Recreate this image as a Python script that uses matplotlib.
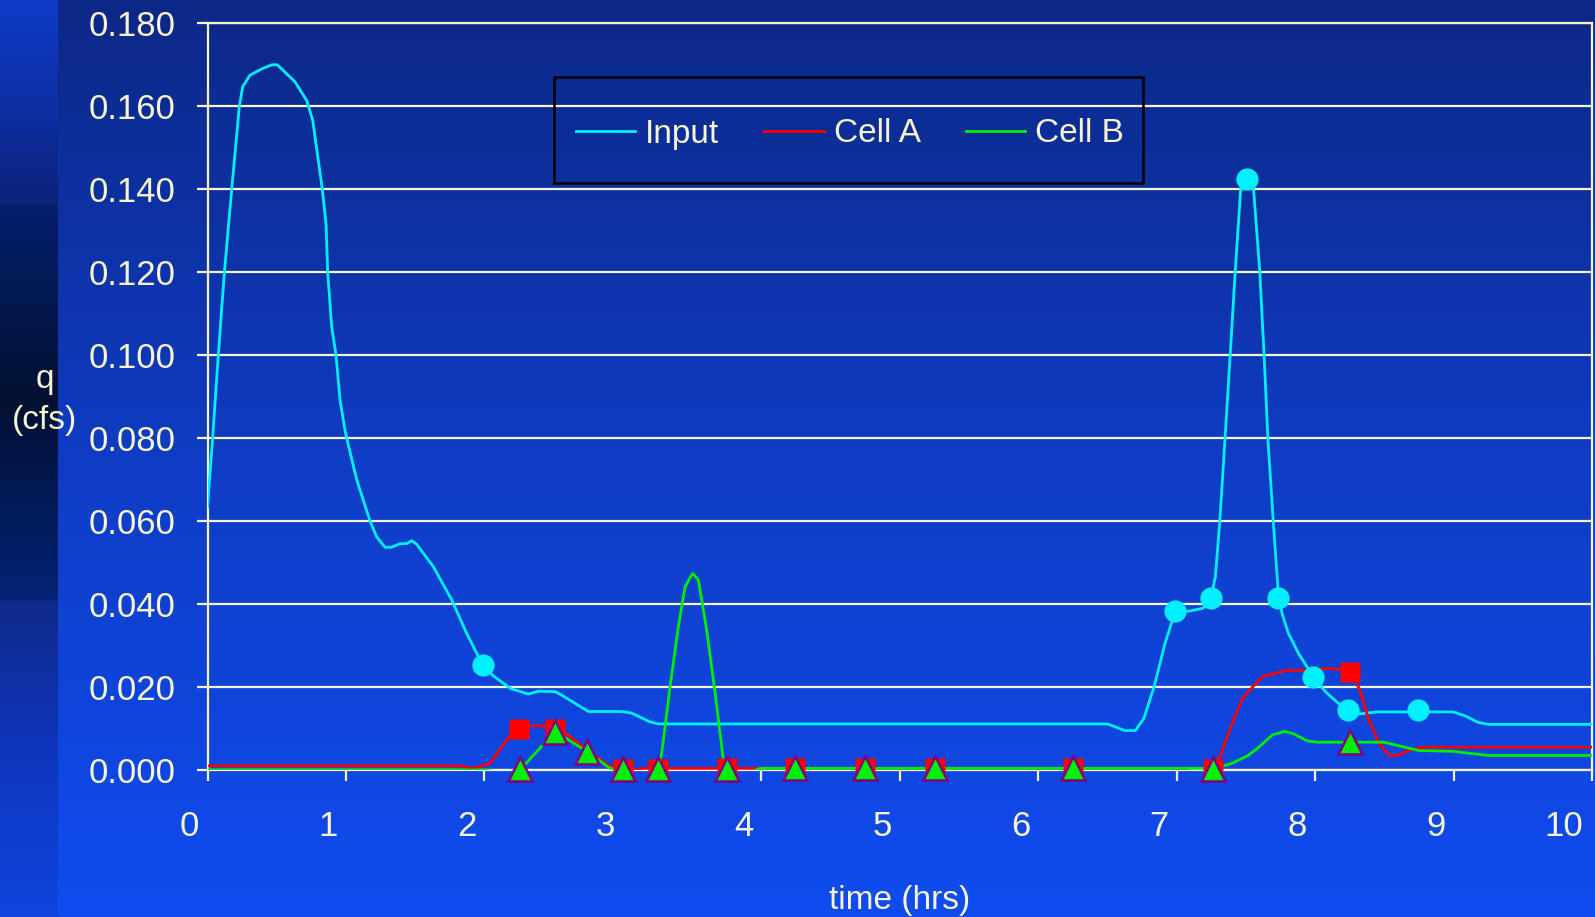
import numpy as np
import matplotlib
matplotlib.use("Agg")
import matplotlib.pyplot as plt
from matplotlib.lines import Line2D
from matplotlib.patches import Rectangle
from matplotlib.transforms import ScaledTranslation

plt.rcParams['font.family'] = ['Liberation Sans', 'DejaVu Sans']

# --- data (time in hrs, q in cfs) ---
input_t = [0.0, 0.037, 0.078, 0.122, 0.175, 0.23, 0.254, 0.307, 0.391, 0.464, 0.504,
           0.632, 0.716, 0.76, 0.80, 0.829, 0.856, 0.868, 0.897, 0.928, 0.957, 0.993,
           1.005, 1.078, 1.174, 1.222, 1.282, 1.33, 1.385, 1.439, 1.475, 1.511, 1.631,
           1.764, 1.872, 1.988, 2.064, 2.185, 2.317, 2.389, 2.51, 2.57, 2.75, 2.992,
           3.064, 3.196, 3.256, 6.5, 6.625, 6.70, 6.763, 6.839, 6.914, 6.989, 7.089,
           7.19, 7.245, 7.278, 7.31, 7.348, 7.385, 7.421, 7.461, 7.51, 7.554, 7.599,
           7.63, 7.657, 7.696, 7.735, 7.762, 7.805, 7.88, 7.986, 8.069, 8.169, 8.237,
           8.319, 8.445, 8.741, 8.997, 9.086, 9.173, 9.249, 10.0]
input_q = [0.0635, 0.080, 0.100, 0.120, 0.140, 0.160, 0.1647, 0.1675, 0.169, 0.170, 0.170,
           0.1659, 0.1614, 0.1566, 0.147, 0.140, 0.1317, 0.120, 0.1068, 0.100, 0.0892, 0.0819,
           0.080, 0.0699, 0.060, 0.0562, 0.0537, 0.0537, 0.0545, 0.0546, 0.0553, 0.0544, 0.049,
           0.041, 0.0329, 0.0253, 0.0227, 0.0197, 0.0183, 0.019, 0.0189, 0.0178, 0.0141, 0.0141,
           0.0137, 0.0116, 0.0111, 0.0111, 0.0095, 0.0095, 0.0125, 0.0205, 0.0305, 0.0383, 0.0383,
           0.039, 0.0415, 0.0465, 0.060, 0.080, 0.100, 0.120, 0.140, 0.1418, 0.140, 0.120,
           0.100, 0.080, 0.060, 0.0415, 0.0375, 0.033, 0.028, 0.0225, 0.019, 0.016, 0.0145,
           0.0135, 0.014, 0.014, 0.014, 0.013, 0.0115, 0.011, 0.011]

cell_a_t = [0.0, 1.81, 1.92, 2.04, 2.185, 2.252, 2.378, 2.51, 2.6, 2.75, 2.9, 3.0, 3.075,
            3.148, 7.0, 7.114, 7.19, 7.26, 7.315, 7.39, 7.478, 7.617, 7.793, 7.918, 8.1,
            8.249, 8.319, 8.382, 8.458, 8.533, 8.596, 8.671, 8.771, 10.0]
cell_a_q = [0.001, 0.001, 0.0004, 0.0016, 0.0084, 0.0099, 0.0108, 0.0100, 0.0085, 0.0045,
            0.001, 0.0003, 0.0, 0.0004, 0.0004, -0.0005, -0.0006, 0.0002, 0.0035, 0.0105,
            0.0175, 0.0225, 0.024, 0.024, 0.0245, 0.024, 0.0195, 0.0125, 0.0065, 0.0035,
            0.0035, 0.0047, 0.0055, 0.0055]

cell_b_t = [0.0, 2.0, 2.113, 2.257, 2.51, 2.743, 2.907, 3.0, 3.124, 3.252, 3.28, 3.34, 3.40,
            3.449, 3.504, 3.545, 3.605, 3.666, 3.725, 3.754, 3.846, 3.894, 3.99, 7.2, 7.26,
            7.39, 7.516, 7.591, 7.692, 7.78, 7.843, 7.943, 8.018, 8.496, 8.746, 8.997,
            9.249, 10.0]
cell_b_q = [0.0, 0.0, -0.0006, 0.0, 0.0093, 0.0044, 0.0004, 0.0, -0.001, 0.0, 0.004, 0.020,
            0.0345, 0.0442, 0.0474, 0.0458, 0.0337, 0.0185, 0.0024, 0.0, -0.0012, -0.001,
            0.0004, 0.0004, 0.0002, 0.0015, 0.0035, 0.0055, 0.0085, 0.0093, 0.0087, 0.007,
            0.0067, 0.0067, 0.0047, 0.0045, 0.0035, 0.0035]

# marked points
input_mk_t = [1.988, 6.989, 7.245, 7.51, 7.732, 7.986, 8.237, 8.741]
input_mk_q = [0.0253, 0.0383, 0.0415, 0.1425, 0.0415, 0.0225, 0.0145, 0.0145]
cell_a_mk_t = [2.252, 2.51, 3.0, 3.25, 3.754, 4.243, 4.749, 5.255, 6.249, 7.26, 8.249]
cell_a_mk_q = [0.0099, 0.0099, 0.0003, 0.0003, 0.0004, 0.0004, 0.0004, 0.0004, 0.0004,
               0.0002, 0.0237]
cell_b_mk_t = [2.257, 2.51, 2.743, 3.0, 3.252, 3.754, 4.243, 4.749, 5.255, 6.249, 7.26, 8.249]
cell_b_mk_q = [0.0003, 0.0092, 0.0044, 0.0003, 0.0003, 0.0003, 0.0005, 0.0005, 0.0005,
               0.0005, 0.0003, 0.0067]

x_ticks = list(range(0, 11))
y_ticks = [0.0, 0.02, 0.04, 0.06, 0.08, 0.10, 0.12, 0.14, 0.16, 0.18]

W, H = 1595, 917
fig = plt.figure(figsize=(W / 100, H / 100), dpi=100)

# background gradient
bg = fig.add_axes([0, 0, 1, 1], zorder=-10)
bg.axis('off')
yy = np.arange(H)
main_stops = [(0, (12, 40, 134)), (450, (15, 60, 195)), (916, (16, 76, 240))]
strip_stops = [(0, (14, 60, 200)), (117, (13, 45, 160)), (204, (12, 35, 120)),
               (206, (4, 32, 108)), (398, (2, 16, 50)), (598, (3, 35, 118)),
               (602, (15, 42, 140)), (760, (14, 55, 190)), (916, (16, 68, 222))]


def grad(stops):
    ys = [s[0] for s in stops]
    cols = np.array([s[1] for s in stops], dtype=float) / 255
    out = np.stack([np.interp(yy, ys, cols[:, k]) for k in range(3)], axis=-1)
    return out[:, None, :]


bg.imshow(grad(main_stops), extent=[0, W, H, 0], aspect='auto', interpolation='bilinear')
bg.imshow(grad(strip_stops), extent=[0, 58, H, 0], aspect='auto', interpolation='bilinear')
bg.set_xlim(0, W)
bg.set_ylim(H, 0)

cream = '#F7F4D2'
cyan = '#00F0FF'
red = '#FF0000'
green = '#00EE00'

ax = fig.add_axes([207.5 / W, 1 - 770 / H, (1592.3 - 207.5) / W, (770 - 23.3) / H])
ax.set_facecolor('none')

ax.plot(input_t, input_q, color=cyan, lw=2.0, zorder=3)
ax.plot(cell_a_t, cell_a_q, color=red, lw=2.0, zorder=4)
ax.plot(cell_b_t, cell_b_q, color=green, lw=2.0, zorder=5)
ax.plot(input_mk_t, input_mk_q, 'o', ms=16, color=cyan, mec='none', zorder=6)
ax.plot(cell_a_mk_t, cell_a_mk_q, 's', ms=15, color=red, mec='none', zorder=7,
        clip_on=False)
ax.plot(cell_b_mk_t, cell_b_mk_q, '^', ms=17, mfc=green, mec='#800080', mew=1.8, zorder=8,
        clip_on=False)

ax.set_xlim(0, 10)
ax.set_ylim(0, 0.18)
ax.set_yticks(y_ticks)
ax.set_yticklabels([f'{v:.3f}' for v in y_ticks])
ax.set_xticks(x_ticks)
ax.set_xticklabels([str(v) for v in x_ticks])
ax.yaxis.grid(True, color=cream, lw=1.6, zorder=1)
ax.set_axisbelow(True)
for s in ax.spines.values():
    s.set_color(cream)
    s.set_linewidth(1.6)
ax.tick_params(axis='both', colors=cream, labelsize=25, width=1.6, length=8)
ax.tick_params(axis='y', pad=15)
ax.tick_params(axis='x', pad=21)
for i, lab in enumerate(ax.get_xticklabels()):
    dx = -0.29 if i == len(x_ticks) - 1 else -0.18
    lab.set_transform(lab.get_transform() + ScaledTranslation(dx, 0, fig.dpi_scale_trans))

fig.text(45 / W, 1 - 400 / H, 'q\n(cfs)', ha='center', va='center', fontsize=24,
         color=cream, linespacing=1.45)
fig.text(900 / W, 1 - 901 / H, 'time (hrs)', ha='center', va='center', fontsize=24,
         color=cream)

# legend box
fig.patches.append(Rectangle((554 / W, 1 - 183.3 / H), (1143 - 554) / W, (183.3 - 76.7) / H,
                             transform=fig.transFigure, fill=False, edgecolor='black',
                             lw=1.8, zorder=9))
handles = [Line2D([], [], color=cyan, lw=2.0),
           Line2D([], [], color=red, lw=2.0),
           Line2D([], [], color=green, lw=2.0)]
leg = fig.legend(handles, ['Input', 'Cell A', 'Cell B'], loc='center',
                 bbox_to_anchor=(850 / W, 1 - 134 / H), ncol=3, frameon=False,
                 fontsize=24, handlelength=1.78, handletextpad=0.3, columnspacing=1.35,
                 labelcolor=cream)

fig.savefig('out.png', dpi=100)
